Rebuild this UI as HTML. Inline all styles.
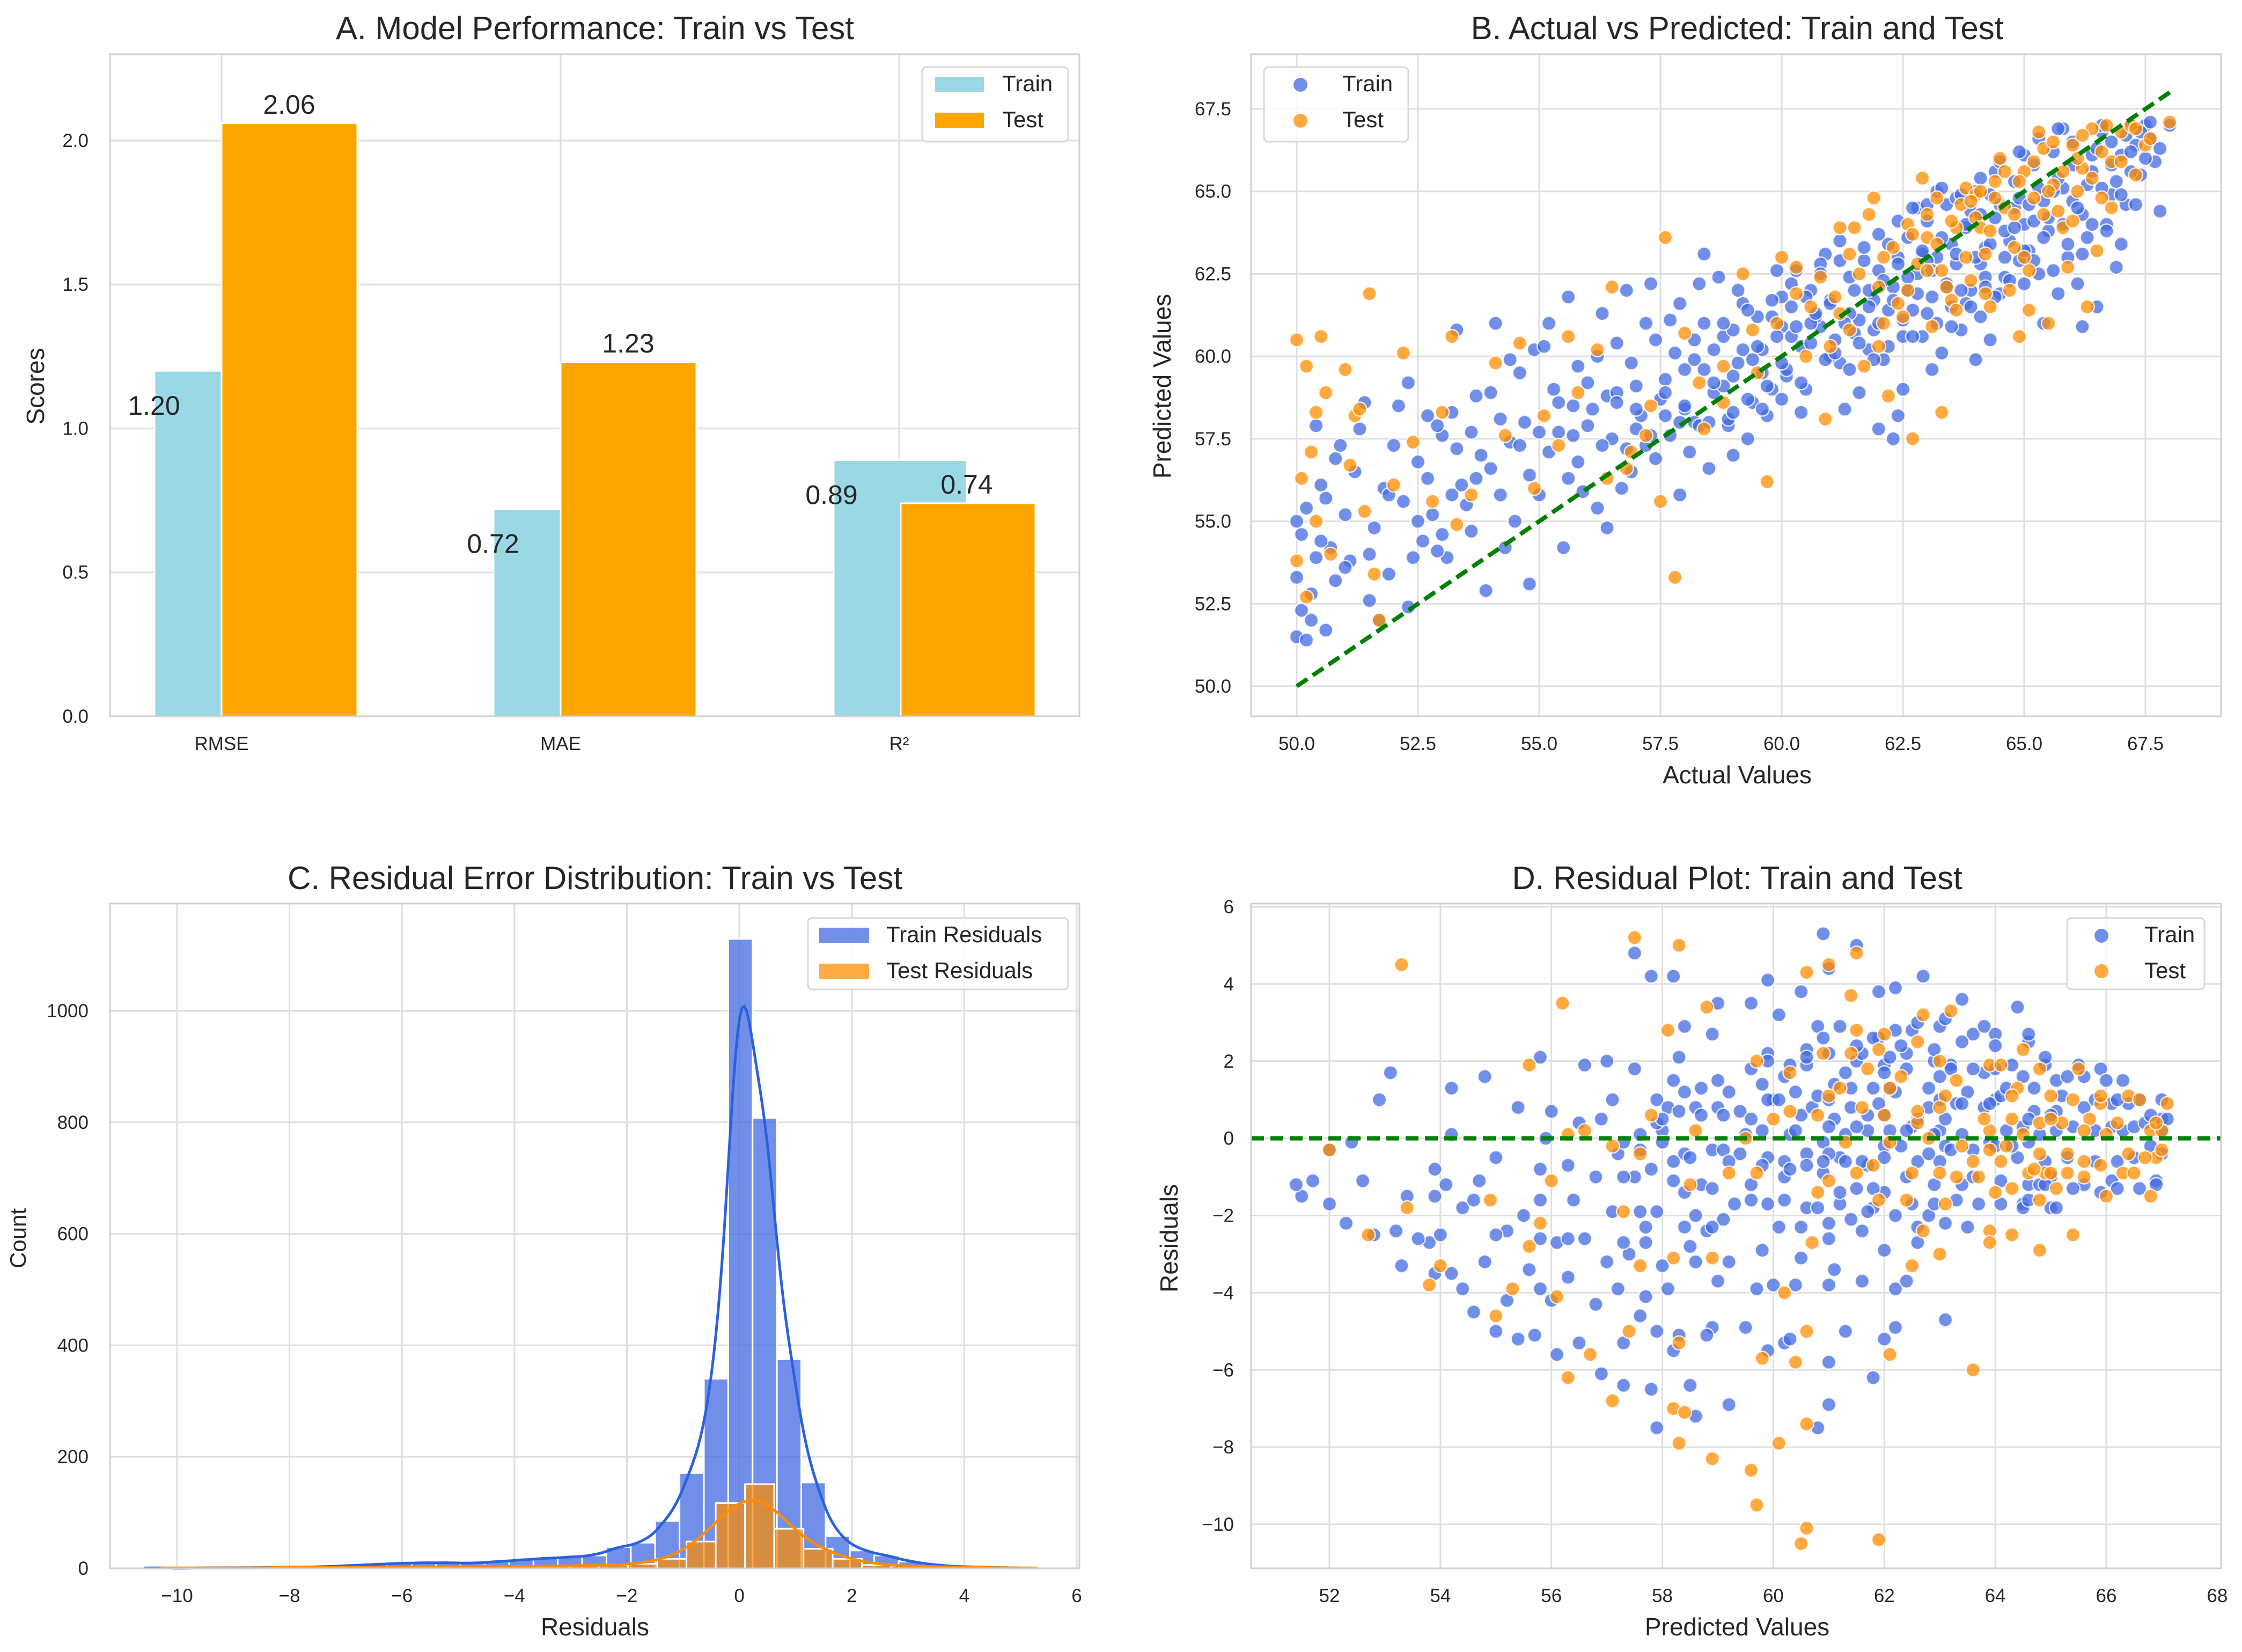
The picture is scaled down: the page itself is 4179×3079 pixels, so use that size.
<!DOCTYPE html>
<html><head><meta charset="utf-8"><style>
html,body{margin:0;padding:0;background:#fff;}
svg{display:block;font-family:"Liberation Sans",Arial,sans-serif;}
</style></head><body>
<svg id="fig" width="4179" height="3079" viewBox="0 0 4179 3079" xmlns="http://www.w3.org/2000/svg">
<rect width="4179" height="3079" fill="#ffffff"/>
</svg>
<script>
// ---------- Panel A data ----------
const metricNames = ["RMSE","MAE","R\u00b2"];
const trainScores = [1.20,0.72,0.89];
const testScores = [2.06,1.23,0.74];
const barTicks = [0.0,0.5,1.0,1.5,2.0];
// ---------- Panel B/D data (actual, predicted) ----------
const trainActualA = [50.0,50.2,50.1,50.3,50.0,50.4,50.1,50.2,50.0,50.5,50.3,50.6,50.8,50.7,51.0,51.2,50.9,51.4,51.1,51.5,51.6,51.8,52.0,52.2,51.9,52.3,52.1,51.3,52.4,51.7,50.6,50.4,52.5,52.6,52.3,
52.8,53.0,53.2,53.4,53.6,53.8,54.0,54.2,54.4,54.6,54.8,53.1,53.5,53.9,54.3,54.7,54.9,53.3,54.1,52.9,53.7,54.5,55.0,53.0,54.0,54.8,52.7,53.6,54.4,53.2,
55.2,55.4,55.6,55.8,56.0,56.2,56.4,56.6,56.8,57.0,57.2,57.4,55.1,55.5,55.9,56.3,56.7,57.1,57.3,55.3,55.7,56.1,56.5,56.9,57.5,55.6,56.4,57.2,55.0,56.8,56.2,57.4,55.8,56.6,57.0,
57.6,57.8,58.0,58.2,58.4,58.6,58.8,59.0,59.2,59.4,59.6,59.8,60.0,57.7,58.1,58.5,58.9,59.3,59.7,57.9,58.3,58.7,59.1,59.5,59.9,57.6,58.0,58.4,58.8,59.2,59.6,60.0,58.2,58.6,59.0,59.4,59.8,57.9,59.0,58.4,
60.2,60.4,60.6,60.8,61.0,61.2,61.4,61.6,61.8,62.0,62.2,62.4,60.1,60.3,60.5,60.7,60.9,61.1,61.3,61.5,61.7,61.9,62.1,62.3,62.5,60.2,60.6,61.0,61.4,61.8,62.2,60.4,61.6,62.4,60.8,61.2,60.0,61.9,62.0,62.3,
62.6,62.8,63.0,63.2,63.4,63.6,63.8,64.0,64.2,64.4,64.6,64.8,65.0,62.7,62.9,63.1,63.3,63.5,63.7,63.9,64.1,64.3,64.5,64.7,64.9,62.6,63.0,63.4,63.8,64.2,64.6,65.0,63.2,62.8,63.6,64.4,62.5,63.1,64.0,63.5,64.3,62.9,64.8,64.1,63.9,
65.2,65.4,65.6,65.8,66.0,66.2,66.4,66.6,66.8,67.0,67.2,67.4,67.6,67.8,65.1,65.3,65.5,65.7,65.9,66.1,66.3,66.5,66.7,66.9,67.1,67.3,67.5,65.2,65.6,66.0,66.4,66.8,67.2,65.0,65.8,66.6,65.4,66.2,67.0,67.7];
const trainPredA = [51.5,51.4,52.3,52.8,53.3,53.9,54.6,55.4,55.0,56.1,52.0,51.7,53.2,54.2,55.2,56.5,57.3,58.6,53.8,52.6,54.8,56.0,57.3,55.6,53.4,52.4,58.5,57.8,53.9,52.0,55.7,57.9,56.8,54.4,59.2,
55.2,57.6,58.3,56.1,54.7,57.0,58.9,55.8,57.4,59.5,56.4,53.9,55.5,52.9,54.2,58.0,60.2,60.8,61.0,57.9,58.8,55.0,57.7,54.6,56.6,53.1,56.3,57.7,59.9,55.8,
57.1,58.6,56.3,59.7,57.9,55.4,58.8,60.4,57.2,59.1,61.0,56.9,60.3,54.2,55.9,61.3,56.0,58.2,62.2,59.0,57.6,58.4,57.5,59.8,58.7,61.8,54.8,57.3,55.8,62.0,60.0,60.5,56.8,58.9,57.8,
59.3,60.1,58.4,59.9,61.0,58.9,60.6,59.4,61.6,58.6,60.2,59.0,60.9,57.6,57.1,56.6,57.9,57.5,58.2,61.6,62.2,62.4,62.0,61.2,62.6,58.2,59.6,59.6,59.1,60.2,59.5,58.7,58.0,60.2,60.8,59.9,61.2,55.8,57.0,63.1,
61.5,60.3,62.0,60.9,61.7,59.8,62.4,61.1,60.2,62.6,61.4,63.0,59.4,62.6,59.0,61.2,63.1,60.5,58.4,60.7,62.9,61.7,59.9,62.1,60.6,60.6,61.0,60.0,61.3,62.0,63.4,58.3,58.9,58.2,62.8,63.5,61.8,60.8,57.8,57.5,
63.6,62.5,64.1,63.0,64.6,62.8,63.9,65.0,63.3,64.2,62.4,65.3,64.0,61.4,60.6,61.8,60.1,61.5,60.8,62.0,61.2,60.5,61.9,63.5,62.9,62.0,62.9,62.2,61.6,62.4,63.8,62.2,65.0,64.5,64.8,65.6,59.0,59.6,59.9,63.4,64.9,63.1,64.5,62.8,64.4,
65.8,64.7,66.2,65.1,66.5,64.3,65.6,66.8,64.9,66.1,67.0,65.5,66.6,64.4,63.2,62.5,63.8,61.9,63.0,62.2,63.6,61.5,64.0,62.7,64.6,66.4,67.0,64.1,65.0,64.7,66.1,65.8,66.2,66.1,66.9,67.0,61.0,60.9,63.4,65.9];
const trainActualB = [58.0,58.3,58.6,58.9,59.1,59.3,59.5,59.7,59.9,60.1,60.3,60.4,60.6,60.7,60.9,61.0,61.1,61.3,61.4,61.5,61.6,61.8,61.9,62.0,62.1,62.2,62.3,62.4,62.5,62.6,62.7,62.8,62.9,63.0,63.1,63.2,63.3,63.4,63.5,63.6,63.7,63.8,63.9,64.0,64.1,64.2,64.3,64.4,64.5,64.6,64.7,64.8,64.9,65.0,65.1,65.2,65.3,65.4,65.5,65.6,65.7,65.8,65.9,66.0,66.1,66.2,66.3,66.4,66.5,66.6,66.7,66.8,66.9,67.0,67.1,67.2,67.3,67.4,67.5,67.6,67.8,68.0,
57.0,57.3,57.6,57.9,58.2,58.5,58.8,59.0,59.3,59.6,59.8,60.0,60.2,60.5,60.8,61.2,61.7,62.0,62.4,62.7,63.0,63.3,63.7,64.1,64.5,64.9,65.3,65.7,
56.0,56.3,56.6,56.9,55.4,55.7,54.6,54.2,53.7,53.3,52.9,52.5,51.9,51.5,51.0,50.5,50.8,52.7,55.2,57.7];
const trainPredB = [58.5,57.9,59.2,58.1,59.8,58.7,60.3,59.1,60.6,59.6,60.9,59.2,60.4,61.3,59.9,61.6,60.1,61.0,59.6,62.0,60.4,61.5,59.9,61.0,62.3,60.3,61.7,62.8,61.1,62.4,60.6,61.9,63.2,61.3,62.6,61.0,63.6,62.1,60.9,63.1,62.0,64.0,61.5,63.0,64.3,62.1,63.4,61.8,64.6,63.0,62.3,63.9,64.8,63.2,64.6,62.9,65.1,63.6,64.2,62.6,65.4,64.0,63.4,65.8,64.5,63.1,65.2,64.0,66.3,65.1,63.8,66.5,65.3,64.9,66.7,65.6,64.6,66.8,66.0,67.1,66.3,67.0,
58.4,57.6,58.9,58.0,60.5,58.0,61.0,58.3,61.4,58.4,61.7,59.8,62.2,61.8,62.5,62.9,63.3,63.7,64.1,64.5,64.6,65.1,64.9,65.4,65.9,66.2,66.6,66.9,
59.2,57.3,58.6,56.5,57.7,58.5,57.3,58.1,56.3,57.2,54.1,55.0,55.8,54.0,53.6,54.4,56.9,58.2,61.0,61.1];
const testActual = [50.0,50.2,50.4,50.5,50.6,50.3,50.1,50.4,50.0,50.2,50.7,51.0,51.2,51.5,51.3,51.1,51.4,51.6,51.7,52.2,52.4,52.0,53.0,53.2,53.6,53.3,54.1,54.3,54.6,54.9,55.1,55.4,55.8,55.6,56.2,56.4,56.9,57.3,57.6,57.5,57.8,58.3,58.8,59.4,59.7,60.0,59.2,58.0,56.5,52.8,
60.3,60.8,61.2,61.5,61.8,62.0,62.3,62.6,62.8,63.0,63.2,63.4,63.6,63.8,64.0,64.2,64.4,64.6,64.8,65.0,65.2,65.4,65.6,65.8,66.0,66.2,66.4,66.6,66.8,67.0,67.2,67.5,68.0,62.5,63.1,63.5,63.9,64.3,64.7,65.1,65.5,65.9,66.3,61.0,61.7,62.2,62.7,63.3,64.9,61.4,62.9,63.7,64.5,65.3,60.5,62.1,63.0,64.1,65.7,66.5,67.3,60.9,61.9,64.0,66.1,
61.1,61.6,62.1,62.4,62.7,63.0,63.3,63.5,63.8,64.1,64.3,64.6,64.8,65.0,65.2,65.4,65.6,65.8,66.0,66.2,66.4,66.6,66.8,67.0,67.3,67.6,62.0,62.6,63.2,63.9,64.4,64.9,65.5,66.1,66.7,63.6,64.2,65.1,61.4,60.6,59.9,59.5,58.8,58.4,57.2,56.8,60.3,61.2];
const testPred = [60.5,59.7,58.3,60.6,58.9,57.1,56.3,55.0,53.8,52.7,54.0,59.6,58.2,61.9,58.4,56.7,55.3,53.4,52.0,60.1,57.4,56.1,58.3,60.6,55.8,54.9,59.8,57.6,60.4,56.0,58.2,57.3,58.9,60.6,60.2,56.3,57.1,58.5,63.6,55.6,53.3,59.2,59.7,60.8,56.2,63.0,62.5,60.7,62.1,55.6,
61.9,62.4,61.3,63.9,64.3,62.1,63.3,64.0,62.8,63.6,64.8,62.1,63.9,65.1,64.2,63.1,65.3,64.5,63.3,65.6,64.8,66.3,65.2,63.9,66.4,65.7,66.9,64.8,65.9,66.8,67.0,66.4,67.1,61.2,60.9,61.7,62.3,61.5,62.0,62.6,61.0,62.7,61.5,60.3,59.7,58.8,57.5,58.3,60.6,63.1,65.4,64.6,66.0,66.8,60.0,61.0,62.6,63.9,64.4,63.2,65.5,58.1,64.8,64.9,65.0,
61.8,62.5,63.0,61.6,63.7,64.3,62.6,64.1,63.0,65.0,63.8,65.6,64.3,63.0,65.9,64.3,66.5,65.6,64.1,66.7,65.4,66.2,64.5,65.9,66.9,66.6,60.3,62.0,63.4,64.7,64.8,65.3,65.0,66.0,67.0,61.4,61.9,61.4,60.8,61.5,61.0,59.5,58.6,57.8,57.6,56.6,62.7,63.9];
const trainActual = trainActualA.concat(trainActualB);
const trainPred = trainPredA.concat(trainPredB);
const bXTicks = [50.0,52.5,55.0,57.5,60.0,62.5,65.0,67.5];
const bYTicks = [50.0,52.5,55.0,57.5,60.0,62.5,65.0,67.5];
// ---------- Panel C data ----------
const trainBinStart = -10.59, trainBinWidth = 0.433;
const trainCounts = [1,0,1,1,1,2,2,3,5,7,9,10,10,9,12,15,18,20,23,38,46,85,171,340,1129,808,375,154,58,32,23,12,6,3,2,1];
const testBinStart = -10.3, testBinWidth = 0.52;
const testCounts = [1,1,0,1,2,1,2,2,3,2,3,4,3,4,5,6,8,17,48,117,151,71,35,17,6,4,3,2,1,1];
const cXTicks = [-10,-8,-6,-4,-2,0,2,4,6];
const cYTicks = [0,200,400,600,800,1000];
const dXTicks = [52,54,56,58,60,62,64,66,68];
const dYTicks = [-10,-8,-6,-4,-2,0,2,4,6];

const NS="http://www.w3.org/2000/svg";
const svg=document.getElementById('fig');
function mk(tag,attrs,parent){const e=document.createElementNS(NS,tag);for(const k in attrs)e.setAttribute(k,attrs[k]);(parent||svg).appendChild(e);return e;}
function lin(d0,d1,r0,r1){return v=>r0+(v-d0)*(r1-r0)/(d1-d0);}
function txt(s,x,y,size,anchor,parent,name,extra){const t=mk('text',Object.assign({x:x,y:y,'font-size':size,fill:'#262626','text-anchor':anchor||'middle'},extra||{}),parent);t.textContent=s;


return t;}

function axesFrame(g,L,R,T,B){
  mk('rect',{x:L,y:T,width:R-L,height:B-T,fill:'none',stroke:'#cfcfcf','stroke-width':3},g);
}
function grid(g,L,R,T,B,xs,ys,sx,sy){
  xs.forEach(v=>{const x=sx(v);const l=mk('line',{x1:x,x2:x,y1:T,y2:B,stroke:'#dedede','stroke-width':3},g);
    
    });
  ys.forEach(v=>{const y=sy(v);const l=mk('line',{x1:L,x2:R,y1:y,y2:y,stroke:'#dedede','stroke-width':3},g);
    
    });
}
const PR=13;

// ================= Panel A =================
(function(){
  const L=205,R=2012,T=101,B=1335;
  const g=mk('g',{});
  
  
  const sy=lin(0,2.30,B,T);
  const centers=[413,1045,1676];
  const trainL=[-125,-125,-122], trainR=[0,0,126], testL=[0,0,3], testR=[253,253,254];
  grid(g,L,R,T,B,[],barTicks,null,sy);
  centers.forEach(c=>{const l=mk('line',{x1:c,x2:c,y1:T,y2:B,stroke:'#dedede','stroke-width':3},g);
    
    });
  metricNames.forEach((m,i)=>{
    const c=centers[i];
    const tb=mk('rect',{x:c+trainL[i],y:sy(trainScores[i]),width:trainR[i]-trainL[i],height:B-sy(trainScores[i]),fill:'#9AD8E6',stroke:'#fff','stroke-width':3},g);
    
    
    const sb=mk('rect',{x:c+testL[i],y:sy(testScores[i]),width:testR[i]-testL[i],height:B-sy(testScores[i]),fill:'#FFA500',stroke:'#fff','stroke-width':3},g);
    
    
    txt(trainScores[i].toFixed(2),c-126,sy(trainScores[i])+82,50,'middle',g,'train-value-label');
    txt(testScores[i].toFixed(2),c+126,sy(testScores[i])-18,50,'middle',g,'test-value-label');
    txt(m,c,1398,35,'middle',g,'x-tick-label');
  });
  axesFrame(g,L,R,T,B);
  barTicks.forEach(v=>txt(v.toFixed(1),165,sy(v)+12,35,'end',g,'y-tick-label'));
  txt('Scores',0,0,46,'middle',g,'y-axis-title',{transform:'translate(82,720) rotate(-90)'});
  txt('A. Model Performance: Train vs Test',1109,73,60,'middle',g,'chart-title');
  const lg=mk('g',{},g);
  
  
  mk('rect',{x:1719,y:125,width:272,height:139,rx:8,fill:'#fff','fill-opacity':0.85,stroke:'#d8d8d8','stroke-width':3},lg);
  mk('rect',{x:1743,y:143,width:91,height:29,fill:'#9AD8E6'},lg);
  mk('rect',{x:1743,y:210,width:91,height:29,fill:'#FFA500'},lg);
  txt('Train',1868,170,42,'start',lg,'legend-entry-train');
  txt('Test',1868,237,42,'start',lg,'legend-entry-test');
})();

// ================= Panel B =================
(function(){
  const L=2332,R=4140,T=101,B=1335;
  const g=mk('g',{});
  
  
  const sx=lin(50,67.5,2417,3999), sy=lin(50,67.5,1279,203);
  grid(g,L,R,T,B,bXTicks,bYTicks,sx,sy);
  const cg=mk('g',{},g);
  trainActual.forEach((a,i)=>{const c=mk('circle',{cx:sx(a),cy:sy(trainPred[i]),r:PR,fill:'#4169E1','fill-opacity':0.75,stroke:'#fff','stroke-width':2.5,'stroke-opacity':0.8},cg);
    
    });
  testActual.forEach((a,i)=>{const c=mk('circle',{cx:sx(a),cy:sy(testPred[i]),r:PR,fill:'#FF8C00','fill-opacity':0.75,stroke:'#fff','stroke-width':2.5,'stroke-opacity':0.8},cg);
    
    });
  const dl=mk('line',{x1:sx(50),y1:sy(50),x2:sx(68.1),y2:sy(68.1),stroke:'#008000','stroke-width':8,'stroke-dasharray':'24 12'},g);
  
  
  axesFrame(g,L,R,T,B);
  bXTicks.forEach(v=>txt(v.toFixed(1),sx(v),1398,35,'middle',g,'x-tick-label'));
  bYTicks.forEach(v=>txt(v.toFixed(1),2295,sy(v)+12,35,'end',g,'y-tick-label'));
  txt('Actual Values',3238,1460,46,'middle',g,'x-axis-title');
  txt('Predicted Values',0,0,46,'middle',g,'y-axis-title',{transform:'translate(2182,720) rotate(-90)'});
  txt('B. Actual vs Predicted: Train and Test',3238,73,60,'middle',g,'chart-title');
  const lg=mk('g',{},g);
  
  
  mk('rect',{x:2356,y:125,width:269,height:139,rx:8,fill:'#fff','fill-opacity':0.85,stroke:'#d8d8d8','stroke-width':3},lg);
  mk('circle',{cx:2424,cy:158,r:13,fill:'#4169E1','fill-opacity':0.75},lg);
  mk('circle',{cx:2424,cy:225,r:13,fill:'#FF8C00','fill-opacity':0.75},lg);
  txt('Train',2502,170,42,'start',lg,'legend-entry-train');
  txt('Test',2502,237,42,'start',lg,'legend-entry-test');
})();

// ================= Panel C =================
(function(){
  const L=205,R=2012,T=1684,B=2923;
  const g=mk('g',{});
  
  
  const sx=lin(-10,6,330,2007), sy=lin(0,1000,B,1884);
  grid(g,L,R,T,B,cXTicks,cYTicks,sx,sy);
  trainCounts.forEach((n,i)=>{const x0=trainBinStart+i*trainBinWidth;
    const r=mk('rect',{x:sx(x0),y:sy(n),width:sx(x0+trainBinWidth)-sx(x0),height:B-sy(n),fill:'#4169E1','fill-opacity':0.75,stroke:'#fff','stroke-width':3},g);
    
    });
  testCounts.forEach((n,i)=>{const x0=testBinStart+i*testBinWidth;
    const r=mk('rect',{x:sx(x0),y:sy(n),width:sx(x0+testBinWidth)-sx(x0),height:B-sy(n),fill:'#FF8C00','fill-opacity':0.72,stroke:'#fff','stroke-width':3},g);
    
    });
  function kde(counts,start,w,h){
    const lo=start,hi=start+counts.length*w;let d='';
    for(let k=0;k<=400;k++){const x=lo+(hi-lo)*k/400;let s=0;
      counts.forEach((n,i)=>{const c=start+(i+0.5)*w;s+=n*Math.exp(-0.5*((x-c)/h)**2)/(h*Math.sqrt(2*Math.PI))*w;});
      d+=(k?'L':'M')+sx(x).toFixed(1)+','+sy(s).toFixed(1);}
    return d;}
  const k1=mk('path',{d:kde(trainCounts,trainBinStart,trainBinWidth,0.23),fill:'none',stroke:'#2B62DA','stroke-width':5},g);
  
  
  const k2=mk('path',{d:kde(testCounts,testBinStart,testBinWidth,0.42),fill:'none',stroke:'#FF8C00','stroke-width':5},g);
  
  
  axesFrame(g,L,R,T,B);
  cXTicks.forEach(v=>txt(v<0?'\u2212'+(-v):String(v),sx(v),2986,35,'middle',g,'x-tick-label'));
  cYTicks.forEach(v=>txt(String(v),165,sy(v)+12,35,'end',g,'y-tick-label'));
  txt('Residuals',1109,3048,46,'middle',g,'x-axis-title');
  txt('Count',0,0,42,'middle',g,'y-axis-title',{transform:'translate(48,2308) rotate(-90)'});
  txt('C. Residual Error Distribution: Train vs Test',1109,1657,60,'middle',g,'chart-title');
  const lg=mk('g',{},g);
  
  
  mk('rect',{x:1506,y:1711,width:485,height:133,rx:8,fill:'#fff','fill-opacity':0.85,stroke:'#d8d8d8','stroke-width':3},lg);
  mk('rect',{x:1527,y:1729,width:93,height:29,fill:'#4169E1','fill-opacity':0.75},lg);
  mk('rect',{x:1527,y:1796,width:93,height:29,fill:'#FF8C00','fill-opacity':0.72},lg);
  txt('Train Residuals',1652,1756,42,'start',lg,'legend-entry-train');
  txt('Test Residuals',1652,1823,42,'start',lg,'legend-entry-test');
})();

// ================= Panel D =================
(function(){
  const L=2332,R=4140,T=1684,B=2923;
  const g=mk('g',{});
  
  
  const sx=lin(52,66,2478,3926), sy=lin(6,-10,1690,2841);
  grid(g,L,R,T,B,dXTicks.filter(v=>v<68),dYTicks,sx,sy);
  const cg=mk('g',{},g);
  trainPred.forEach((p,i)=>{const c=mk('circle',{cx:sx(p),cy:sy(trainActual[i]-p),r:PR,fill:'#4169E1','fill-opacity':0.75,stroke:'#fff','stroke-width':2.5,'stroke-opacity':0.8},cg);
    
    });
  testPred.forEach((p,i)=>{const c=mk('circle',{cx:sx(p),cy:sy(testActual[i]-p),r:PR,fill:'#FF8C00','fill-opacity':0.75,stroke:'#fff','stroke-width':2.5,'stroke-opacity':0.8},cg);
    
    });
  const zl=mk('line',{x1:L,x2:R,y1:sy(0),y2:sy(0),stroke:'#008000','stroke-width':8,'stroke-dasharray':'24 12'},g);
  
  
  axesFrame(g,L,R,T,B);
  dXTicks.forEach(v=>txt(String(v),sx(v),2986,35,'middle',g,'x-tick-label'));
  dYTicks.forEach(v=>txt(v<0?'\u2212'+(-v):String(v),2300,sy(v)+12,35,'end',g,'y-tick-label'));
  txt('Predicted Values',3238,3048,46,'middle',g,'x-axis-title');
  txt('Residuals',0,0,46,'middle',g,'y-axis-title',{transform:'translate(2195,2308) rotate(-90)'});
  txt('D. Residual Plot: Train and Test',3238,1657,60,'middle',g,'chart-title');
  const lg=mk('g',{},g);
  
  
  mk('rect',{x:3853,y:1711,width:256,height:133,rx:8,fill:'#fff','fill-opacity':0.85,stroke:'#d8d8d8','stroke-width':3},lg);
  mk('circle',{cx:3917,cy:1744,r:13,fill:'#4169E1','fill-opacity':0.75},lg);
  mk('circle',{cx:3917,cy:1810,r:13,fill:'#FF8C00','fill-opacity':0.75},lg);
  txt('Train',3997,1756,42,'start',lg,'legend-entry-train');
  txt('Test',3997,1823,42,'start',lg,'legend-entry-test');
})();
</script>
</body></html>
